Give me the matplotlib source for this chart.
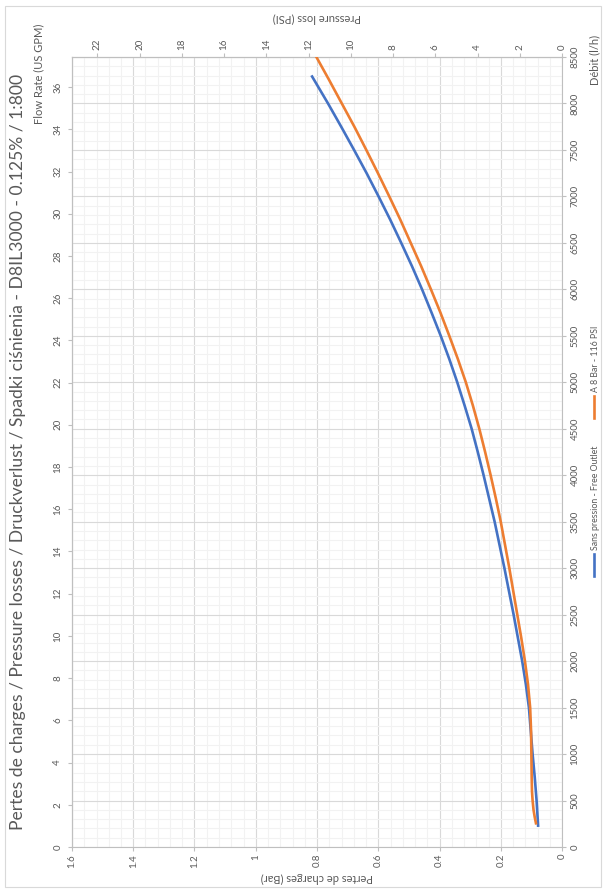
import matplotlib.pyplot as plt
from matplotlib.lines import Line2D
from matplotlib.patches import Rectangle
from matplotlib.ticker import MultipleLocator, FuncFormatter

plt.rcParams['font.family'] = ['Lato', 'DejaVu Sans']

# data: flow (l/h) vs pressure loss (bar)
flow_free = [230, 500, 750, 1000, 1250, 1500, 1750, 2000, 2250, 2500, 2750, 3000,
             3250, 3500, 3750, 4000, 4250, 4500, 4750, 5000, 5250, 5500, 5750,
             6000, 6250, 6500, 6750, 7000, 7250, 7500, 7750, 8000, 8290]
loss_free = [0.078, 0.083, 0.089, 0.096, 0.102, 0.108, 0.118, 0.130, 0.144, 0.158, 0.173, 0.188,
             0.204, 0.220, 0.238, 0.256, 0.275, 0.295, 0.318, 0.342, 0.368, 0.396, 0.426,
             0.457, 0.490, 0.525, 0.561, 0.599, 0.638, 0.679, 0.721, 0.764, 0.816]

flow_8bar = [255, 320, 400, 500, 600, 750, 1000, 1250, 1500, 1750, 2000, 2250, 2500,
             2750, 3000, 3250, 3500, 3750, 4000, 4250, 4500, 4750, 5000, 5250, 5500,
             5750, 6000, 6250, 6500, 6750, 7000, 7250, 7500, 7750, 8000, 8250, 8500]
loss_8bar = [0.085, 0.089, 0.093, 0.096, 0.098, 0.099, 0.100, 0.101, 0.104, 0.111, 0.121, 0.133, 0.146,
             0.159, 0.172, 0.186, 0.200, 0.216, 0.233, 0.251, 0.270, 0.291, 0.314, 0.340, 0.368,
             0.397, 0.428, 0.460, 0.494, 0.528, 0.564, 0.601, 0.639, 0.678, 0.719, 0.760, 0.802]

labels = ["Sans pression - Free Outlet", "A 8 Bar - 116 PSI"]
colors = ["#4472C4", "#ED7D31"]

title = "Pertes de charges / Pressure losses / Druckverlust / Spadki ciśnienia - D8IL3000 - 0.125% / 1:800"

BAR_TO_PSI = 14.5038
LH_PER_GPM = 227.1247

W, H = 607, 893
txt = "#595959"
axc = "#BFBFBF"
tick_fs = 7
lab_fs = 8

fig = plt.figure(figsize=(W / 100, H / 100), dpi=100)
fig.patches.append(Rectangle((5 / W, 6 / H), 596 / W, 881 / H, transform=fig.transFigure,
                             fill=False, edgecolor="#D9D9D9", lw=0.8))

# plot area in pixels: left 72, right 562, top 57, bottom 847
ax = fig.add_axes([72 / W, (H - 847) / H, 490 / W, 790 / H])

ax.plot(loss_free, flow_free, color=colors[0], lw=1.9, solid_joinstyle="round", zorder=3)
ax.plot(loss_8bar, flow_8bar, color=colors[1], lw=1.9, solid_joinstyle="round", zorder=3)

ax.set_xlim(1.6, 0)
ax.set_ylim(0, 8500)
ax.xaxis.set_major_locator(MultipleLocator(0.2))
ax.xaxis.set_minor_locator(MultipleLocator(0.04))
ax.yaxis.set_major_locator(MultipleLocator(500))
ax.yaxis.set_minor_locator(MultipleLocator(100))
ax.xaxis.set_major_formatter(FuncFormatter(lambda v, p: f"{v:g}"))
ax.yaxis.tick_right()

ax.grid(which="major", color="#D9D9D9", lw=0.8, zorder=1)
ax.grid(which="minor", color="#F2F2F2", lw=0.8, zorder=0)
ax.set_axisbelow(True)

for s in ax.spines.values():
    s.set_color(axc)
    s.set_linewidth(0.8)

ax.tick_params(which="major", direction="out", length=3, width=0.8, color=axc,
               labelsize=tick_fs, labelcolor=txt)
ax.tick_params(which="minor", length=0)
ax.tick_params(axis="x", labelrotation=90, pad=2)
ax.tick_params(axis="y", labelrotation=90, pad=3)
for t in ax.get_yticklabels():
    t.set_va("center")

top = ax.secondary_xaxis("top", functions=(lambda b: b * BAR_TO_PSI, lambda p: p / BAR_TO_PSI))
top.set_xticks(range(0, 24, 2))
top.tick_params(direction="out", length=3, width=0.8, color=axc,
                labelsize=tick_fs, labelcolor=txt, labelrotation=90, pad=2)
top.spines["top"].set_color(axc)
top.spines["top"].set_linewidth(0.8)

left = ax.secondary_yaxis("left", functions=(lambda q: q / LH_PER_GPM, lambda g: g * LH_PER_GPM))
left.set_yticks(range(0, 38, 2))
left.tick_params(direction="out", length=3, width=0.8, color=axc,
                 labelsize=tick_fs, labelcolor=txt, labelrotation=90, pad=4)
for t in left.get_yticklabels():
    t.set_va("center")
left.spines["left"].set_color(axc)
left.spines["left"].set_linewidth(0.8)


# titles (whole chart is turned a quarter turn)
def fx(px):
    return px / W


def fy(py):
    return 1 - py / H


fig.text(fx(18), fy(452), title, rotation=90, ha="center", va="center",
         fontsize=12.6, color=txt)
fig.text(fx(39), fy(74), "Flow Rate (US GPM)", rotation=90, ha="center", va="center",
         fontsize=lab_fs, color=txt)
fig.text(fx(595), fy(60), "Débit (l/h)", rotation=90, ha="center", va="center",
         fontsize=lab_fs, color=txt)
fig.text(fx(317), fy(18), "Pressure loss (PSI)", rotation=180, ha="center", va="center",
         fontsize=lab_fs, color=txt)
fig.text(fx(317), fy(878), "Pertes de charges (Bar)", rotation=180, ha="center", va="center",
         fontsize=lab_fs, color=txt)

# legend, drawn by hand so it can be turned too
leg_y = [576, 418]
for c, lab, y0 in zip(colors, labels, leg_y):
    fig.add_artist(Line2D([fx(594), fx(594)], [fy(y0), fy(y0 - 22)], color=c, lw=1.9,
                          transform=fig.transFigure))
    fig.text(fx(595), fy(y0 - 26), lab, rotation=90, ha="center", va="bottom",
             fontsize=6.3, color=txt)

fig.savefig("out.png", dpi=100)
